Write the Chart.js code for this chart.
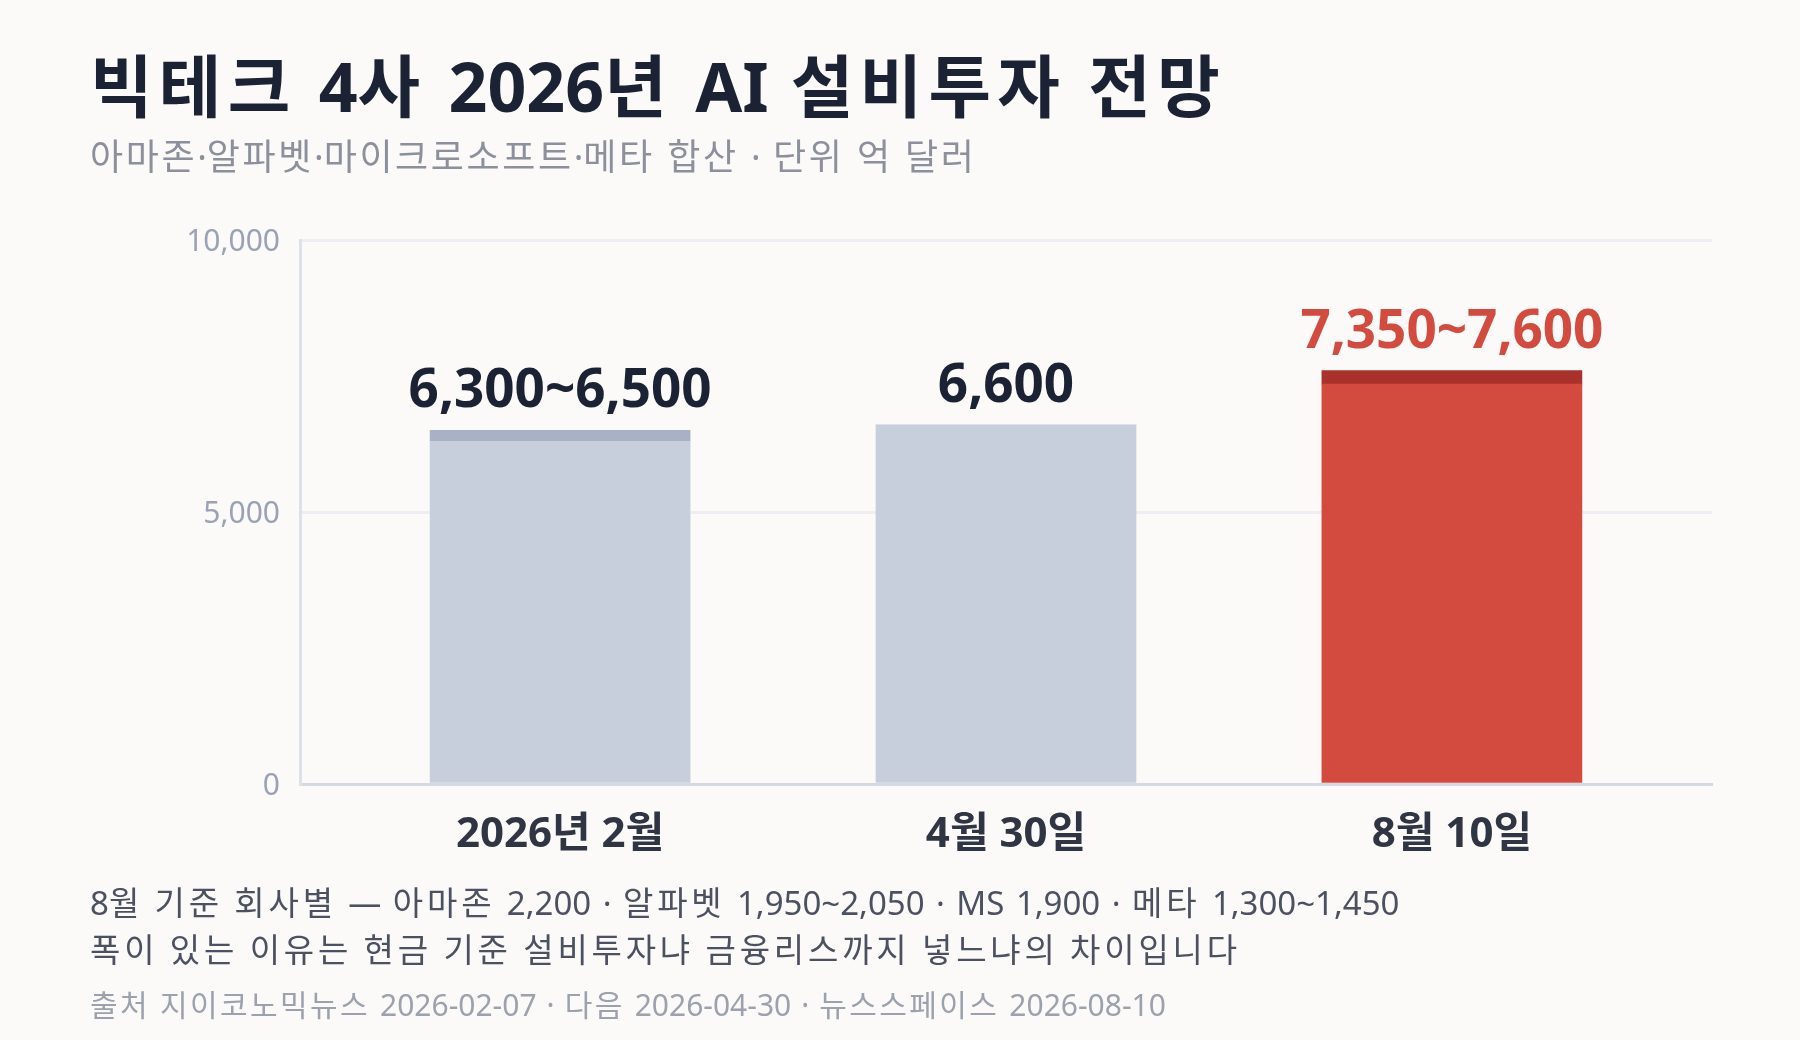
<!DOCTYPE html>
<html lang="ko">
<head>
<meta charset="utf-8">
<script src="https://cdn.jsdelivr.net/npm/chart.js@4/dist/chart.umd.min.js"></script>
<style>
  html, body { margin:0; padding:0; background:#fbfaf8; }
  body { width:1800px; height:1040px; position:relative; overflow:hidden;
         font-family:'Noto Sans','Noto Sans CJK KR',sans-serif; }
  #c { position:absolute; left:0; top:0; }
  .t { position:absolute; left:90px; white-space:nowrap; }
  #title { top:46px; font-size:68px; line-height:80px; font-weight:700; color:#1b2234; }
  #sub { top:137px; font-size:36px; line-height:40px; color:#8b909c; }
  #n1 { top:884px; font-size:33px; line-height:38px; color:#4b5160; }
  #n2 { top:931px; font-size:33px; line-height:38px; color:#4b5160; }
  #src { top:987px; font-size:30px; line-height:36px; color:#9ba1ad; }
</style>
</head>
<body>
<canvas id="c" width="1800" height="1040"></canvas>
<div class="t" id="title">빅테크 4사 2026년 AI 설비투자 전망</div>
<div class="t" id="sub">아마존·알파벳·마이크로소프트·메타 합산 · 단위 억 달러</div>
<div class="t" id="n1">8월 기준 회사별 — 아마존 2,200 · 알파벳 1,950~2,050 · MS 1,900 · 메타 1,300~1,450</div>
<div class="t" id="n2">폭이 있는 이유는 현금 기준 설비투자냐 금융리스까지 넣느냐의 차이입니다</div>
<div class="t" id="src">출처 지이코노믹뉴스 2026-02-07 · 다음 2026-04-30 · 뉴스스페이스 2026-08-10</div>
<script>
const categories = ['2026년 2월', '4월 30일', '8월 10일'];
const lowValues  = [6300, 6600, 7350];
const highValues = [6500, 6600, 7600];
const valueLabels = ['6,300~6,500', '6,600', '7,350~7,600'];
const yTicks = [0, 5000, 10000];

const baseColors  = ['#c7cedc', '#c7cedc', '#d34b3e'];
const rangeColors = ['#a9b2c5', '#a9b2c5', '#a8312b'];
const labelColors = ['#1b2234', '#1b2234', '#d34b3e'];

const FONT = "'Noto Sans','Noto Sans CJK KR',sans-serif";

// widen Hangul runs and spaces a little (reference Hangul face is wider)
function widen(id, h, e) {
  const el = document.getElementById(id);
  const t = el.textContent;
  let out = '', run = '', type = null;
  const flush = () => {
    if (!run) return;
    if (type === 'h') out += '<span style="letter-spacing:' + h + 'px">' + run + '</span>';
    else if (type === 's') out += '<span style="letter-spacing:' + e + 'px">' + run + '</span>';
    else out += run;
    run = '';
  };
  for (const ch of t) {
    const ty = /[\uAC00-\uD7A3]/.test(ch) ? 'h' : (ch === ' ' ? 's' : 'o');
    if (ty !== type) { flush(); type = ty; }
    run += ch;
  }
  flush();
  el.innerHTML = out;
}
widen('title', 6.3, 4.4);
widen('sub', 2.6, 3);
widen('n1', 3.8, 2.9);
widen('n2', 3.8, 2.9);
widen('src', 2.4, 2.2);

const valueLabelPlugin = {
  id: 'valueLabels',
  afterDatasetsDraw(chart) {
    const ctx = chart.ctx;
    const xs = chart.scales.x, ys = chart.scales.y;
    ctx.save();
    ctx.font = "bold 53px " + FONT;
    ctx.textAlign = 'center';
    ctx.textBaseline = 'alphabetic';
    categories.forEach((c, i) => {
      ctx.fillStyle = labelColors[i];
      ctx.fillText(valueLabels[i], xs.getPixelForValue(i), ys.getPixelForValue(highValues[i]) - 23);
    });
    ctx.restore();
  }
};

new Chart(document.getElementById('c'), {
  type: 'bar',
  data: {
    datasets: [
      {
        data: lowValues.map((v, i) => ({ x: i, y: v })),
        backgroundColor: baseColors,
        borderWidth: 0,
        barThickness: 260
      },
      {
        data: highValues.map((v, i) => ({ x: i, y: v - lowValues[i] })),
        backgroundColor: rangeColors,
        borderWidth: 0,
        barThickness: 260
      }
    ]
  },
  options: {
    responsive: false,
    devicePixelRatio: 1,
    animation: false,
    layout: { padding: { left: 0, right: 88, top: 240, bottom: 0 } },
    plugins: { legend: { display: false }, tooltip: { enabled: false }, title: { display: false } },
    scales: {
      x: {
        type: 'linear',
        stacked: true,
        min: -0.5833,
        max: 2.5833,
        offset: false,
        afterBuildTicks: (s) => { s.ticks = categories.map((c, i) => ({ value: i })); },
        afterFit: (s) => { s.height = 256; },
        grid: { display: false, drawTicks: false },
        border: { display: true, color: '#d5d9e2', width: 3 },
        ticks: {
          padding: 26,
          color: '#2f3542',
          font: { family: FONT, size: 42, weight: 'bold' },
          callback: (v) => categories[v] ?? ''
        }
      },
      y: {
        stacked: true,
        min: 0,
        max: 10000,
        afterBuildTicks: (s) => { s.ticks = yTicks.map(v => ({ value: v })); },
        afterFit: (s) => { s.width = 300; },
        grid: { color: '#eceef3', lineWidth: 3, drawTicks: false },
        border: { display: true, color: '#dde1ea', width: 3 },
        ticks: {
          padding: 20,
          labelOffset: 2,
          color: '#9aa3b5',
          font: { family: FONT, size: 30 },
          callback: (v) => v.toLocaleString('en-US')
        }
      }
    }
  },
  plugins: [valueLabelPlugin]
});
</script>
</body>
</html>
